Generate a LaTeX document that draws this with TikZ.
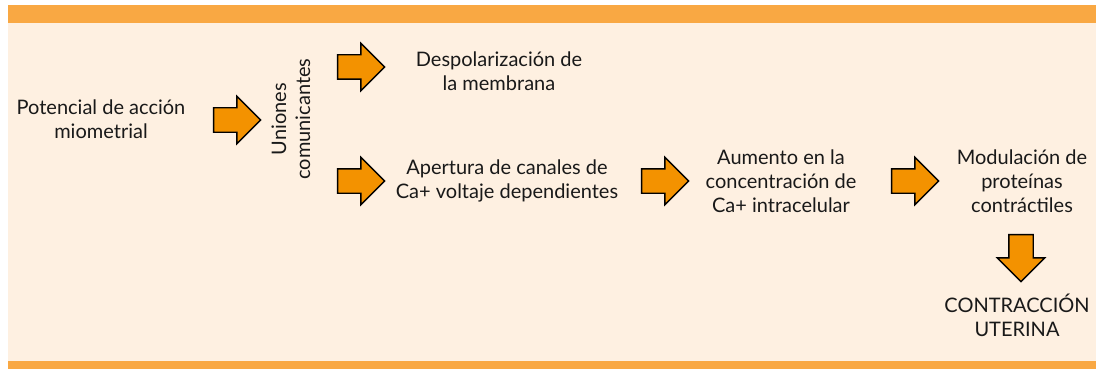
\documentclass[tikz,border=0pt]{standalone}
\usepackage{fontspec}
\setmainfont{Lato}
\usetikzlibrary{shapes.arrows}
\definecolor{barorange}{HTML}{F9A843}
\definecolor{cream}{HTML}{FEF0E1}
\definecolor{arrowfill}{HTML}{F39200}
\tikzset{
  blockarrow/.style={shape=single arrow, draw=black, line width=1.4pt, fill=arrowfill,
    inner xsep=0pt, inner ysep=11.5pt, single arrow head extend=11.5pt,
    single arrow head indent=0pt, minimum height=47pt},
  label/.style={align=center, font=\fontsize{20}{24}\selectfont, text=black!90, inner sep=0pt}
}
\begin{document}
\begin{tikzpicture}[x=1pt,y=-1pt]
\useasboundingbox (0,0) rectangle (1096,369);
\fill[cream] (8,23) rectangle (1096,361);
\fill[barorange] (8,5) rectangle (1096,23);
\fill[barorange] (8,361) rectangle (1096,369);

\node[label] (pot) at (101,119) {Potencial de acción\\miometrial};
\node[label, rotate=90] (uni) at (291,119) {Uniones\\comunicantes};
\node[label] (desp) at (499,71) {Despolarización de\\la membrana};
\node[label] (aper) at (507,181) {Apertura de canales de\\Ca+ voltaje dependientes};
\node[label] (aum) at (781,181) {Aumento en la\\concentración de\\Ca+ intracelular};
\node[label] (mod) at (1022,181) {Modulación de\\proteínas\\contráctiles};
\node[label] (contr) at (1017,315) {CONTRACCIÓN\\UTERINA};

\node[blockarrow] (a1) at (231,120) {};
\node[blockarrow] (a2) at (355,67) {};
\node[blockarrow] (a3) at (355,181) {};
\node[blockarrow] (a4) at (659,181) {};
\node[blockarrow] (a5) at (909,181) {};
\node[blockarrow, rotate=-90] (a6) at (1021,252) {};
\end{tikzpicture}
\end{document}
